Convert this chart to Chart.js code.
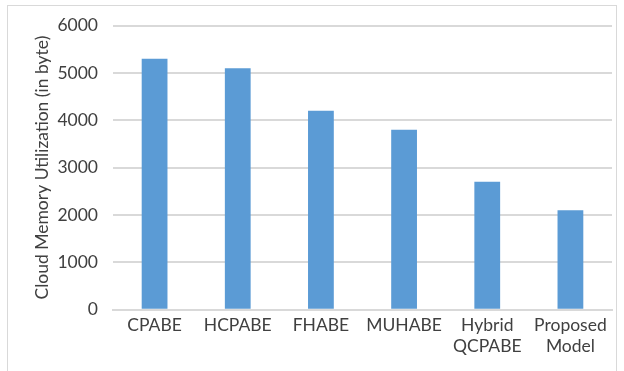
<!DOCTYPE html>
<html>
<head>
<meta charset="utf-8">
<script src="https://cdn.jsdelivr.net/npm/chart.js@4"></script>
<style>
  html, body { margin: 0; padding: 0; background: #fff; }
  #wrap { position: relative; width: 624px; height: 371px; }
</style>
</head>
<body>
<div id="wrap"><canvas id="c" width="624" height="371"></canvas></div>
<script>
// Cloud memory utilization per scheme
const categories = [["CPABE"], ["HCPABE"], ["FHABE"], ["MUHABE"], ["Hybrid", "QCPABE"], ["Proposed", "Model"]];
const memoryBytes = [5300, 5100, 4200, 3800, 2700, 2100];
const yTicks = [0, 1000, 2000, 3000, 4000, 5000, 6000];

const FONT = "Lato, 'Open Sans', sans-serif";
const TEXT = "#404040";
const GRID = "#d9d9d9";

// light frame around the whole chart
const framePlugin = {
  id: "frame",
  beforeDraw(chart) {
    const ctx = chart.ctx;
    ctx.save();
    ctx.fillStyle = "#fff";
    ctx.fillRect(0, 0, chart.width, chart.height);
    ctx.strokeStyle = GRID;
    ctx.lineWidth = 1;
    ctx.strokeRect(7.5, 5.5, 609, 400);
    ctx.restore();
  }
};

new Chart(document.getElementById("c"), {
  type: "bar",
  data: {
    labels: categories,
    datasets: [{
      data: memoryBytes,
      backgroundColor: "#5b9bd5",
      barPercentage: 0.31,
      categoryPercentage: 1.0
    }]
  },
  options: {
    responsive: false,
    animation: false,
    devicePixelRatio: 1,
    layout: { padding: { left: 32, right: 12, top: 16, bottom: 9 } },
    plugins: { legend: { display: false }, tooltip: { enabled: false } },
    scales: {
      x: {
        grid: { display: false, drawTicks: false },
        border: { display: true, color: GRID, width: 2 },
        ticks: { color: TEXT, font: { family: FONT, size: 17.5, lineHeight: 1.15 }, padding: 6, maxRotation: 0 }
      },
      y: {
        min: 0,
        max: 6000,
        afterBuildTicks(axis) { axis.ticks = yTicks.map(v => ({ value: v })); },
        afterFit(axis) { axis.width = 81; },
        grid: { color: GRID, lineWidth: 2, drawTicks: false },
        border: { display: false },
        ticks: { color: TEXT, font: { family: FONT, size: 17.5 }, padding: 15, callback: v => String(v) },
        title: {
          display: true,
          text: "Cloud Memory Utilization (in byte)",
          color: TEXT,
          font: { family: FONT, size: 17.5 },
          padding: { top: 0, bottom: 5 }
        }
      }
    }
  },
  plugins: [framePlugin]
});
</script>
</body>
</html>
